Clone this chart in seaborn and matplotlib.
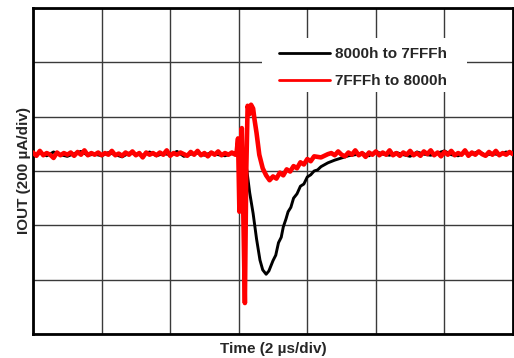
import numpy as np
import pandas as pd
import matplotlib
matplotlib.use("Agg")
import matplotlib.pyplot as plt
from matplotlib.patches import Rectangle
import seaborn as sns

# ---- data (in scope divisions: x 0..7 time div, y 0..6 current div) ----
black_pre_t = np.round(np.arange(0.0, 2.95, 0.1), 3)
black_pre_y = [3.26, 3.33, 3.28, 3.35, 3.30, 3.27, 3.32, 3.36, 3.29, 3.31,
               3.28, 3.34, 3.30, 3.26, 3.33, 3.31, 3.29, 3.35, 3.28, 3.32,
               3.30, 3.36, 3.27, 3.31, 3.33, 3.29, 3.34, 3.30, 3.28, 3.32]
black_tr_t = [3.00, 3.05, 3.08, 3.12, 3.16, 3.21, 3.26, 3.31, 3.35, 3.40,
              3.44, 3.50, 3.54, 3.58, 3.62, 3.65, 3.69, 3.72, 3.76, 3.80,
              3.85, 3.90, 3.95, 4.00, 4.05, 4.10, 4.15, 4.20, 4.30, 4.40,
              4.50, 4.60]
black_tr_y = [3.28, 3.22, 3.34, 3.00, 2.60, 2.22, 1.75, 1.36, 1.18, 1.10,
              1.16, 1.35, 1.45, 1.68, 1.78, 1.97, 2.12, 2.25, 2.33, 2.50,
              2.58, 2.72, 2.76, 2.89, 2.93, 3.00, 3.02, 3.08, 3.15, 3.20,
              3.24, 3.28]
black_post_t = np.round(np.arange(4.7, 7.01, 0.1), 3)
black_post_y = [3.30, 3.33, 3.28, 3.36, 3.31, 3.29, 3.34, 3.30, 3.27, 3.35,
                3.31, 3.29, 3.33, 3.37, 3.30, 3.28, 3.34, 3.31, 3.36, 3.29,
                3.32, 3.30, 3.35, 3.31]

red_pre_t = np.round(np.arange(0.0, 2.951, 0.05), 3)
red_pre_y = [3.34, 3.28, 3.37, 3.29, 3.33, 3.30, 3.24, 3.34, 3.29, 3.33,
             3.30, 3.34, 3.28, 3.35, 3.30, 3.38, 3.29, 3.33, 3.30, 3.34,
             3.29, 3.33, 3.30, 3.37, 3.29, 3.32, 3.28, 3.34, 3.30, 3.36,
             3.29, 3.33, 3.25, 3.34, 3.30, 3.33, 3.29, 3.34, 3.30, 3.38,
             3.28, 3.33, 3.30, 3.34, 3.31, 3.28, 3.35, 3.30, 3.37, 3.29,
             3.33, 3.27, 3.34, 3.30, 3.36, 3.29, 3.33, 3.30, 3.34, 3.30]
red_tr_t = [2.97, 2.99, 3.01, 3.03, 3.045, 3.07, 3.09, 3.11, 3.13, 3.16,
            3.18, 3.21, 3.23, 3.26, 3.30, 3.35, 3.40, 3.45, 3.50, 3.55,
            3.60, 3.65, 3.70, 3.75, 3.80, 3.85, 3.90, 3.95, 4.00, 4.05,
            4.10, 4.20, 4.30]
red_tr_y = [3.35, 3.60, 2.25, 3.00, 3.79, 2.00, 0.57, 3.00, 4.20, 4.05,
            4.22, 4.15, 3.95, 3.70, 3.30, 3.05, 2.92, 2.83, 2.90, 2.86,
            2.97, 2.92, 3.03, 2.99, 3.09, 3.05, 3.16, 3.12, 3.22, 3.18,
            3.27, 3.25, 3.31]
red_post_t = np.round(np.arange(4.35, 7.001, 0.05), 3)
red_post_y = [3.33, 3.29, 3.36, 3.30, 3.27, 3.34, 3.30, 3.38, 3.29, 3.33,
              3.26, 3.34, 3.30, 3.36, 3.29, 3.34, 3.30, 3.38, 3.29, 3.33,
              3.28, 3.34, 3.30, 3.37, 3.29, 3.33, 3.28, 3.36, 3.31, 3.38,
              3.29, 3.34, 3.27, 3.35, 3.30, 3.37, 3.29, 3.33, 3.30, 3.38,
              3.28, 3.34, 3.30, 3.36, 3.31, 3.28, 3.35, 3.30, 3.37, 3.29,
              3.33, 3.30, 3.35, 3.31]

labels = ["8000h to 7FFFh", "7FFFh to 8000h"]
colors = ["#000000", "#ff0000"]

black_df = pd.DataFrame({
    "t": np.concatenate([black_pre_t, black_tr_t, black_post_t]),
    "i": np.concatenate([black_pre_y, black_tr_y, black_post_y]),
})
red_df = pd.DataFrame({
    "t": np.concatenate([red_pre_t, red_tr_t, red_post_t]),
    "i": np.concatenate([red_pre_y, red_tr_y, red_post_y]),
})

sns.set_style("white")
plt.rcParams['font.family'] = ['Liberation Sans', 'DejaVu Sans']

fig = plt.figure(figsize=(5.14, 3.58), dpi=100)
ax = fig.add_axes([33 / 514, 1 - 334 / 358, 480 / 514, 326 / 358])

sns.lineplot(data=black_df, x="t", y="i", ax=ax, color=colors[0], lw=2.1,
             sort=False, estimator=None, label=labels[0], zorder=3)
sns.lineplot(data=red_df, x="t", y="i", ax=ax, color=colors[1], lw=3.3,
             sort=False, estimator=None, label=labels[1], zorder=4)

ax.set_xlim(0, 7)
ax.set_ylim(0, 6)
ax.set_xticks(range(8))
ax.set_yticks(range(7))
ax.set_xticklabels([])
ax.set_yticklabels([])
ax.tick_params(length=0)
ax.grid(True, color="#3a3a3a", lw=1.0, zorder=1)
ax.set_axisbelow(True)
for s in ax.spines.values():
    s.set_visible(True)
    s.set_color("black")
    s.set_linewidth(2.0)

ax.set_xlabel("Time (2 µs/div)", fontsize=11, fontweight="bold", labelpad=2)
ax.set_ylabel("IOUT (200 µA/div)", fontsize=11, fontweight="bold", labelpad=-2)

# white panel behind the legend (hides grid there)
ax.add_patch(Rectangle((0.477, 0.742), 0.427, 0.166, transform=ax.transAxes,
                       facecolor="white", edgecolor="none", zorder=2))

leg = ax.legend(loc="upper left", bbox_to_anchor=(0.512, 0.88),
                frameon=False,
                prop={"size": 11, "weight": "bold"},
                handlelength=3.35, handletextpad=0.35, labelspacing=0.85,
                borderpad=0, borderaxespad=0)
for line in leg.get_lines():
    line.set_linewidth(2.0)
leg.set_zorder(10)

fig.savefig("out.png", dpi=100)
